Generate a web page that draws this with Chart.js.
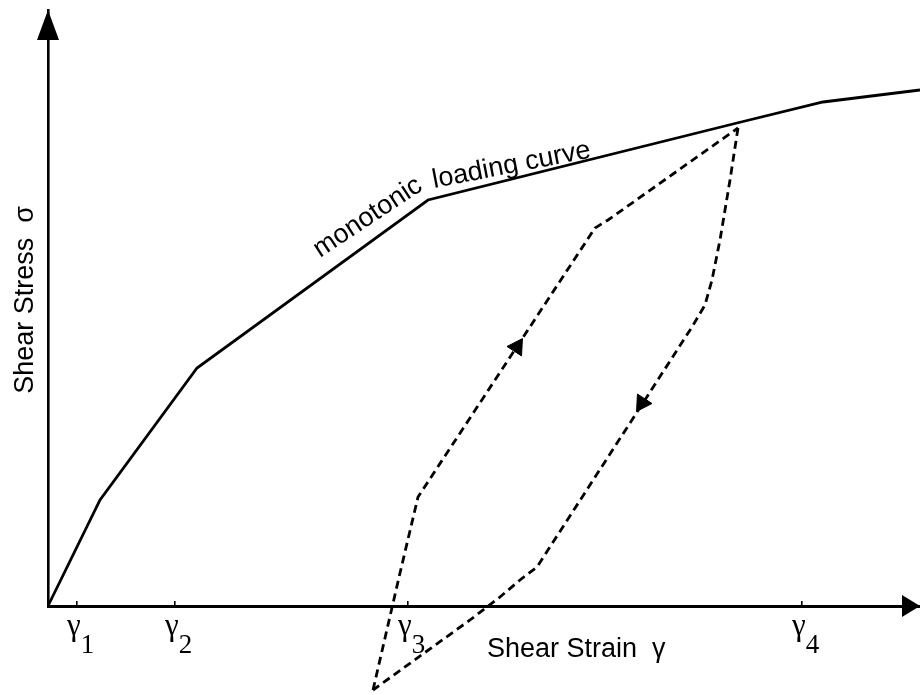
<!DOCTYPE html>
<html><head><meta charset="utf-8">
<script src="https://cdn.jsdelivr.net/npm/chart.js@4.4.1/dist/chart.umd.min.js"></script>
<style>html,body{margin:0;padding:0;background:#fff;}#wrap{width:920px;height:695px;position:relative;}canvas{display:block;}</style>
</head><body><div id="wrap"><canvas id="c" width="920" height="695" style="width:920px;height:695px"></canvas></div>
<script>
// Monotonic loading curve (strain, stress) in arbitrary units
const monoStrain = [0, 52, 149, 380, 689, 775, 872];
const monoStress = [0, 106, 238, 406, 483, 504, 516];
// Unloading branch (dashed), from peak down
const unloadStrain = [690, 682, 672, 664, 657, 644, 489, 472, 452, 422, 325];
const unloadStress = [478, 426, 366, 326, 301, 279, 39, 26, 9, -14, -84];
// Reloading branch (dashed), from bottom back to peak
const reloadStrain = [325, 352, 370, 547, 560, 690];
const reloadStress = [-84, 33, 109, 378, 386, 478];
// Direction arrows on the loop
const arrowStrain = [469, 594];
const arrowStress = [259, 203];
const arrowRotation = [33, 213];
// Strain ticks
const tickValues = [29, 127, 360, 754];
const tickLabels = ['γ1', 'γ2', 'γ3', 'γ4'];
const xTitle = 'Shear Strain  γ';
const yTitle = 'Shear Stress  σ';
const curveLabelA = 'monotonic';
const curveLabelB = 'loading curve';

const ink = '#000';
const sans = '"Liberation Sans", Arial, sans-serif';
const serif = '"Liberation Serif", "Times New Roman", serif';
const pts = (xs, ys) => xs.map((v, i) => ({x: v, y: ys[i]}));

const annot = {
  id: 'annot',
  afterDraw(chart) {
    const {ctx, scales: {x, y}} = chart;
    const X = v => x.getPixelForValue(v), Y = v => y.getPixelForValue(v);
    ctx.save();
    ctx.fillStyle = ink;
    // axis arrowheads
    const x0 = X(0), y0 = Y(0), xe = X(x.max), ye = Y(y.max);
    ctx.beginPath(); ctx.moveTo(xe, y0); ctx.lineTo(xe - 18, y0 - 11); ctx.lineTo(xe - 18, y0 + 11); ctx.closePath(); ctx.fill();
    ctx.beginPath(); ctx.moveTo(x0, ye); ctx.lineTo(x0 - 11, ye + 30); ctx.lineTo(x0 + 11, ye + 30); ctx.closePath(); ctx.fill();
    // tick labels with subscripts
    ctx.textBaseline = 'alphabetic';
    ctx.textAlign = 'left';
    x.ticks.forEach((t, i) => {
      const lab = tickLabels[i];
      const px = X(t.value) - 10;
      ctx.font = '31px ' + serif;
      ctx.fillText(lab[0], px, y0 + 29);
      const w = ctx.measureText(lab[0]).width;
      ctx.font = '27px ' + serif;
      ctx.fillText(lab.slice(1), px + w, y0 + 47);
    });
    // axis titles
    ctx.font = '27px ' + sans;
    ctx.fillText(xTitle, X(439), Y(-51));
    ctx.save();
    ctx.translate(X(-15), Y(306));
    ctx.rotate(-Math.PI / 2);
    ctx.textAlign = 'center';
    ctx.fillText(yTitle, 0, 0);
    ctx.restore();
    // curve label
    ctx.save();
    ctx.translate(X(272), Y(348));
    ctx.rotate(-33.5 * Math.PI / 180);
    ctx.fillText(curveLabelA, 0, 0);
    ctx.restore();
    ctx.save();
    ctx.translate(X(386), Y(418));
    ctx.rotate(-11 * Math.PI / 180);
    ctx.fillText(curveLabelB, 0, 0);
    ctx.restore();
    ctx.restore();
  }
};

new Chart(document.getElementById('c'), {
  type: 'scatter',
  data: {
    datasets: [
      {data: pts(monoStrain, monoStress), showLine: true, borderColor: ink, borderWidth: 2.8, pointRadius: 0, tension: 0, clip: false},
      {data: pts(unloadStrain, unloadStress), showLine: true, borderColor: ink, borderWidth: 2.8, borderDash: [8, 5], pointRadius: 0, tension: 0, clip: false},
      {data: pts(reloadStrain, reloadStress), showLine: true, borderColor: ink, borderWidth: 2.8, borderDash: [8, 5], pointRadius: 0, tension: 0, clip: false},
      {data: pts(arrowStrain, arrowStress), showLine: false, pointStyle: 'triangle', rotation: arrowRotation, pointRadius: 10, backgroundColor: ink, borderColor: ink, borderWidth: 1, clip: false}
    ]
  },
  options: {
    responsive: false,
    maintainAspectRatio: false,
    animation: false,
    devicePixelRatio: 1,
    layout: {autoPadding: false, padding: {left: 48, top: 10, right: 0, bottom: 89}},
    plugins: {legend: {display: false}, tooltip: {enabled: false}},
    events: [],
    scales: {
      x: {
        type: 'linear', min: 0, max: 872, position: {y: 0},
        afterBuildTicks: s => { s.ticks = tickValues.map(v => ({value: v})); },
        ticks: {display: false},
        grid: {display: true, drawOnChartArea: false, drawTicks: true, tickLength: -7, color: ink, lineWidth: 1.6},
        border: {display: true, color: ink, width: 3}
      },
      y: {
        type: 'linear', min: 0, max: 596, position: {x: 0},
        ticks: {display: false},
        grid: {display: false},
        border: {display: true, color: ink, width: 2.6}
      }
    }
  },
  plugins: [annot]
});
</script></body></html>
